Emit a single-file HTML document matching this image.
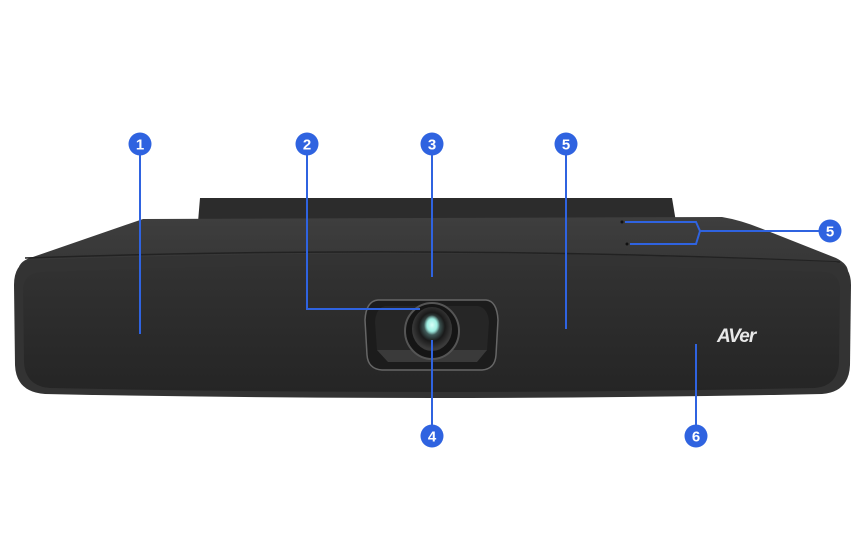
<!DOCTYPE html>
<html><head><style>html,body{margin:0;padding:0;background:#fff;width:865px;height:545px;overflow:hidden}</style></head>
<body>
<svg width="865" height="545" viewBox="0 0 865 545" xmlns="http://www.w3.org/2000/svg" font-family="Liberation Sans, sans-serif">
<defs>
<linearGradient id="top" x1="0" y1="0" x2="0" y2="1"><stop offset="0" stop-color="#3e3e3e"/><stop offset="1" stop-color="#363636"/></linearGradient>
<linearGradient id="front" x1="0" y1="0" x2="0" y2="1"><stop offset="0" stop-color="#323232"/><stop offset="0.6" stop-color="#2a2a2a"/><stop offset="1" stop-color="#252525"/></linearGradient>
<radialGradient id="lens" cx="0.5" cy="0.45" r="0.5"><stop offset="0" stop-color="#aef5e8"/><stop offset="0.3" stop-color="#4a6a68"/><stop offset="0.65" stop-color="#1a1a1a"/><stop offset="1" stop-color="#3a3a3a"/></radialGradient>
<radialGradient id="glow" cx="0.5" cy="0.5" r="0.5"><stop offset="0" stop-color="#d8fff8"/><stop offset="0.6" stop-color="#9fefe2"/><stop offset="1" stop-color="#9fefe2" stop-opacity="0"/></radialGradient>
</defs>
<path d="M200 198 L672 198 L676 222 L198 222 Z" fill="#2c2c2c"/>
<path d="M143 219 L722 217 Q740 220 760 228 L836 258 Q848 264 848 272 L18 272 Q18 262 30 258 Z" fill="url(#top)"/>
<path d="M25 258 Q430 244 840 262" stroke="#222" stroke-width="1.5" fill="none"/>
<path d="M30 260 Q430 246 836 262 Q851 266 851 285 L850 365 Q849 392 822 394 Q430 402 45 394 Q16 392 15 365 L14 285 Q14 264 30 260 Z" fill="#333"/>
<path d="M40 272 Q430 258 826 272 Q840 274 840 290 L839 362 Q838 386 815 388 Q430 396 50 388 Q25 386 24 362 L23 290 Q23 274 40 272 Z" fill="url(#front)"/>
<path d="M378 300 L486 300 Q497 301 498 320 L496 355 Q495 369 482 370 L382 370 Q368 369 367 355 L365 320 Q366 301 378 300 Z" fill="#1c1c1c" stroke="#666" stroke-width="1.5"/>
<path d="M385 306 L478 306 Q488 308 489 322 L487 350 L477 362 L388 362 L377 350 L375 322 Q376 308 385 306 Z" fill="#262626"/>
<path d="M377 350 L388 362 L477 362 L487 350 Z" fill="#3a3a3a"/>
<ellipse cx="432" cy="331" rx="27" ry="28" fill="#151515" stroke="#555" stroke-width="2"/>
<ellipse cx="432" cy="329" rx="20" ry="22" fill="url(#lens)"/>
<ellipse cx="432" cy="325" rx="8" ry="10" fill="url(#glow)"/>
<text x="717" y="342" fill="#e8e8e8" font-size="19" font-weight="bold" font-style="italic" letter-spacing="-1">AVer</text>
<g stroke="#2f63e0" stroke-width="2" fill="none">
<line x1="140" y1="150" x2="140" y2="334"/>
<polyline points="307,150 307,309 420,309"/>
<line x1="432" y1="150" x2="432" y2="277"/>
<line x1="566" y1="150" x2="566" y2="329"/>
<line x1="432" y1="340" x2="432" y2="430"/>
<line x1="696" y1="344" x2="696" y2="430"/>
<polyline points="824,231 700,231 696,222 625,222"/>
<polyline points="700,231 696,244 630,244"/>
</g>
<circle cx="622" cy="222" r="1.5" fill="#111"/><circle cx="627" cy="244" r="1.5" fill="#111"/>
<g fill="#2f63e0"><circle cx="140" cy="144" r="11.5"/><circle cx="307" cy="144" r="11.5"/><circle cx="432" cy="144" r="11.5"/><circle cx="566" cy="144" r="11.5"/><circle cx="830" cy="231" r="11.5"/><circle cx="432" cy="436" r="11.5"/><circle cx="696" cy="436" r="11.5"/></g>
<g fill="#fff" font-size="15" font-weight="bold" text-anchor="middle">
<text x="140" y="149.5">1</text><text x="307" y="149.5">2</text><text x="432" y="149.5">3</text><text x="566" y="149.5">5</text><text x="830" y="236.5">5</text><text x="432" y="441.5">4</text><text x="696" y="441.5">6</text>
</g>
</svg>
</body></html>
